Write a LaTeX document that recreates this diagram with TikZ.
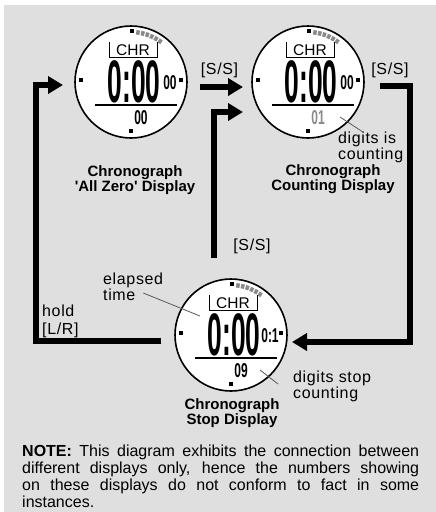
\documentclass[tikz,border=0pt]{standalone}
\usepackage{fontspec}
\setmainfont{Liberation Sans}
\newfontfamily\spacedfont{Liberation Sans}[LetterSpace=4]
\usepackage{graphicx}
\usepackage{tikz}
\usetikzlibrary{arrows.meta,positioning,calc}
\definecolor{bggray}{HTML}{DFDFDF}
\definecolor{seggray}{HTML}{8A8A8A}
\definecolor{leadgray}{HTML}{5A5A5A}

\begin{document}
\begin{tikzpicture}[x=1pt,y=-1pt,
  face/.style={circle,draw,fill=white,line width=1.6pt,minimum size=112pt,
               inner sep=0pt,outer sep=0pt},
  flow/.style={line width=6.5pt,-{Triangle[length=15pt,width=17pt]}},
  keylbl/.style={font=\spacedfont\fontsize{16}{16}\selectfont,inner sep=0pt},
  caption/.style={font=\bfseries\fontsize{15}{15}\selectfont,align=center,inner sep=0pt},
  note/.style={anchor=north west,inner sep=0pt,text width=397pt,align=justify,
               font=\fontsize{16}{16.8}\selectfont},
  leader/.style={leadgray,line width=0.8pt},
  segs/.style={seggray,line width=4.5pt,dash pattern=on 3.5pt off 1.3pt},
  lcd/.style={inner sep=0pt,font=\bfseries},
]
\fill[white] (0,0) rectangle (436,512);
\fill[bggray] (4,5) rectangle (436,512);
\useasboundingbox (0,0) rectangle (436,512);

% the three watch faces
\foreach \n/\cx/\cy/\sm/\lo/\lc in {zero/131/82/00/00/black,count/308/82/00/01/seggray,stop/231/335/0:1/09/black}{
  \node[face] (\n) at (\cx,\cy) {};
  \begin{scope}[shift={(\cx,\cy)}]
    \draw[segs] (-84:50) arc[start angle=-84,end angle=-52,radius=50];
    \fill (-1,-53) rectangle (3,-49);
    \fill (-52,-4) rectangle (-48,0);
    \fill (48,-4) rectangle (52,0);
    \fill (-2,47) rectangle (2,51);
    \draw[line width=0.8pt] (-22,-40) -- (-22,-25) -- (26,-25) -- (26,-40);
    \node[inner sep=0pt,font=\fontsize{15.5}{15.5}\selectfont] at (2,-32) {CHR};
    \node[lcd] at (3,0) {\scalebox{0.44}[1]{\fontsize{60}{60}\selectfont 0:00}};
    \node[lcd] at (39,1) {\scalebox{0.6}[1]{\fontsize{20}{20}\selectfont \sm}};
    \draw[line width=2pt] (-36,23) -- (46,23);
    \node[lcd,text=\lc] at (10,36) {\scalebox{0.6}[1]{\fontsize{20}{20}\selectfont \lo}};
  \end{scope}
}

\node[caption] (zerocap) at (135,180.5) {Chronograph\\\textquotesingle All Zero\textquotesingle{} Display};
\node[caption] (countcap) at (333,179.5) {Chronograph\\Counting Display};
\node[caption] (stopcap) at (232,413) {Chronograph\\Stop Display};

\node[keylbl] (ssa) at (219.5,70) {[S/S]};
\node[keylbl] (ssb) at (390,70) {[S/S]};
\node[keylbl] (ssc) at (252,246) {[S/S]};
\node[keylbl,align=left,anchor=west] (islbl) at (338,147.5) {digits is\\counting};
\node[keylbl,align=left,anchor=west] (eltlbl) at (103,287) {elapsed\\time};
\node[keylbl,align=left,anchor=west,font=\spacedfont\fontsize{16}{18}\selectfont] (holdlbl) at (42,321) {hold\\{}[L/R]};
\node[keylbl,align=left,anchor=west] (stoplbl) at (293,386) {digits stop\\counting};

% leader lines
\coordinate (cntdig) at (340,117);
\coordinate (eltpt) at (200,316);
\coordinate (stoppt) at (260,370);
\draw[leader] (cntdig) -- ([xshift=-8pt]islbl.north);
\draw[leader] ([shift={(-20,6)}]eltlbl.east) -- (eltpt);
\draw[leader] (stoppt) -- ([shift={(-15,-2)}]stoplbl.west);

% button flow
\draw[flow] ([shift={(-14,6)}]stop.west) -- ++(-125,0) |- ([shift={(-12,3)}]zero.west);
\draw[flow] ([shift={(13,5)}]zero.east) -- ([shift={(-9,5)}]count.west);
\draw[flow] ([shift={(-38,176)}]count.west) |- ([shift={(-9,30)}]count.west);
\draw[flow] ([shift={(16,4)}]count.east) -- ++(30,0) |- ([shift={(5,7)}]stop.east);

\node[note] (notetxt) at (22,445) {{\bfseries NOTE:} This diagram exhibits the connection between\linebreak
different displays only, hence the numbers showing\linebreak
on these displays do not conform to fact in some\linebreak
instances.};
\end{tikzpicture}
\end{document}
